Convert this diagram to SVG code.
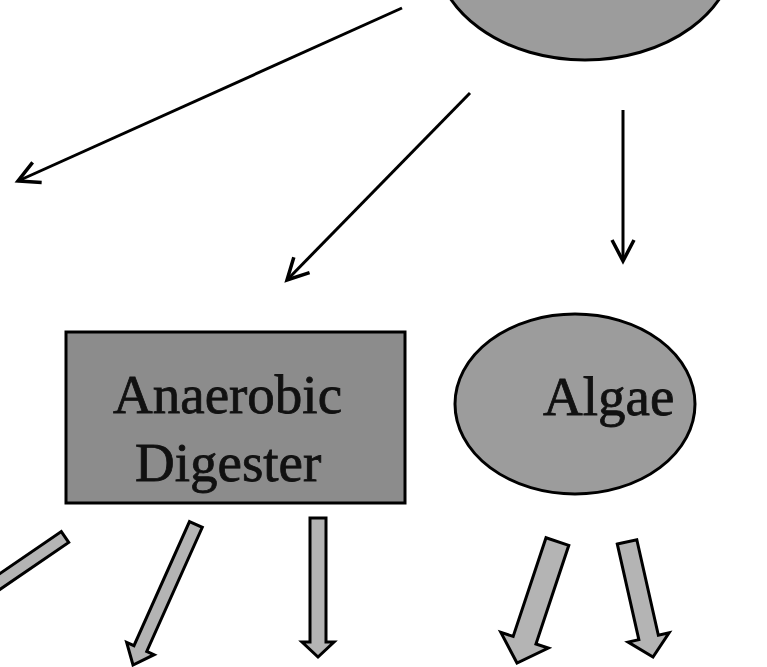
<svg xmlns="http://www.w3.org/2000/svg" width="767" height="667" viewBox="0 0 767 667">
<style>
.shape{stroke:#000;stroke-width:3}
.rect{fill:#8c8c8c}
.oval{fill:#9c9c9c}
.lbl{font-family:"Liberation Serif",serif;font-size:55px;fill:#111;stroke:#111;stroke-width:0.8}
.line{stroke:#000;stroke-width:3;fill:none;marker-end:url(#vhead)}
.block{fill:#b4b4b4;stroke:#000;stroke-width:3}
</style>
<defs>
<marker id="vhead" markerUnits="userSpaceOnUse" markerWidth="30" markerHeight="30" refX="0" refY="0" orient="auto" overflow="visible">
<path d="M -21 -11 L 0 0 L -21 11" fill="none" stroke="#000" stroke-width="3.5"/>
</marker>
</defs>
<rect width="767" height="667" fill="#fff"/>
<g id="source">
<ellipse class="shape oval" cx="585" cy="-50" rx="150" ry="110"/>
</g>
<g id="anaerobic-digester">
<rect class="shape rect" x="66" y="332" width="339" height="171"/>
<text class="lbl" x="113" y="413">Anaerobic</text>
<text class="lbl" x="135" y="481">Digester</text>
</g>
<g id="algae">
<ellipse class="shape oval" cx="575" cy="404" rx="120" ry="90"/>
<text class="lbl" x="543" y="415">Algae</text>
</g>
<g id="connectors">
<line class="line" x1="402" y1="8" x2="18" y2="181"/>
<line class="line" x1="470" y1="93" x2="287" y2="280"/>
<line class="line" x1="623" y1="110" x2="623" y2="261"/>
<polygon class="block" points="68.7,542.4 61.3,531.6 -33.7,596.6 -26.3,607.4"/>
<polygon class="block" transform="translate(133,665) rotate(24.1)" points="-7,-154 7,-154 7,-18 15,-18 0,0 -15,-18 -7,-18"/>
<polygon class="block" transform="translate(318,657)" points="-8,-139 8,-139 8,-15 16,-15 0,0 -16,-15 -8,-15"/>
<polygon class="block" transform="translate(517,663) rotate(18.4)" points="-12,-128 12,-128 12,-24 25,-24 0,0 -25,-24 -12,-24"/>
<polygon class="block" transform="translate(653,657) rotate(-12.7)" points="-10,-118 10,-118 10,-20 21,-20 0,0 -21,-20 -10,-20"/>
</g>
</svg>
